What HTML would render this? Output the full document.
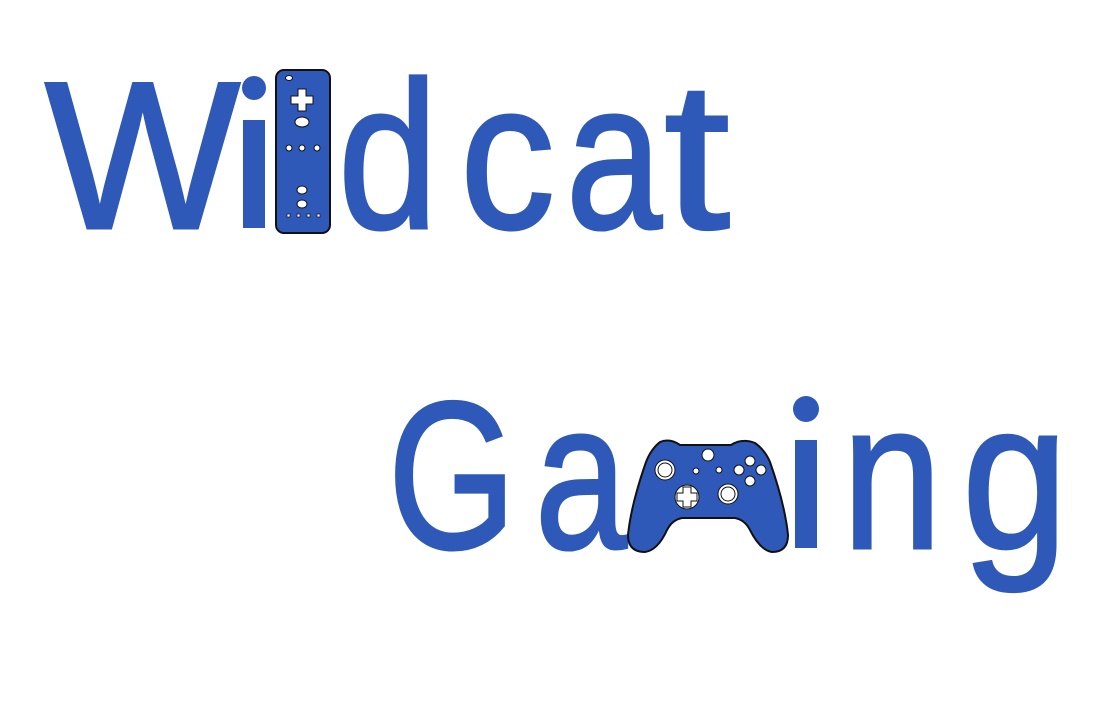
<!DOCTYPE html>
<html><head><meta charset="utf-8"><style>
html,body{margin:0;padding:0;background:#fff;width:1108px;height:724px;overflow:hidden}
svg{display:block}
text{font-family:"Liberation Sans",sans-serif;fill:#2f59b8;font-size:210px;stroke:#2f59b8;stroke-width:3px}
</style></head><body>
<svg width="1108" height="724" viewBox="0 0 1108 724">
<g>
<text x="45" y="228" textLength="195" lengthAdjust="spacingAndGlyphs">W</text>
<rect x="243" y="120" width="22" height="108" fill="#2f59b8"/>
<circle cx="254" cy="88" r="12" fill="#2f59b8"/>
<g>
<rect x="276" y="70" width="54" height="163" rx="8" fill="#2f59b8" stroke="#111" stroke-width="2"/>
<ellipse cx="289" cy="78" rx="3.5" ry="2.5" fill="#fff" stroke="#111"/>
<path d="M298 89h8v7h7v8h-7v7h-8v-7h-7v-8h7z" fill="#fff" stroke="#111"/>
<ellipse cx="302" cy="122" rx="7" ry="5" fill="#fff" stroke="#111"/>
<circle cx="289" cy="148" r="3" fill="#fff" stroke="#111"/>
<circle cx="302" cy="148" r="3" fill="#fff" stroke="#111"/>
<circle cx="317" cy="148" r="3" fill="#fff" stroke="#111"/>
<ellipse cx="302" cy="190" rx="5" ry="4" fill="#fff" stroke="#111"/>
<ellipse cx="302" cy="204" rx="5" ry="4" fill="#fff" stroke="#111"/>
<rect x="287" y="214" width="3" height="3" fill="#fff" stroke="#111" stroke-width=".7"/>
<rect x="297" y="214" width="3" height="3" fill="#fff" stroke="#111" stroke-width=".7"/>
<rect x="307" y="214" width="3" height="3" fill="#fff" stroke="#111" stroke-width=".7"/>
<rect x="317" y="214" width="3" height="3" fill="#fff" stroke="#111" stroke-width=".7"/>
</g>
<text x="338" y="228" textLength="100" lengthAdjust="spacingAndGlyphs">d</text>
<text x="460" y="228" textLength="95" lengthAdjust="spacingAndGlyphs">c</text>
<text x="566" y="228" textLength="96" lengthAdjust="spacingAndGlyphs">a</text>
<text x="664" y="228" textLength="66" lengthAdjust="spacingAndGlyphs">t</text>
</g>
<g>
<text x="388" y="548" textLength="128" lengthAdjust="spacingAndGlyphs">G</text>
<text x="535" y="548" textLength="92" lengthAdjust="spacingAndGlyphs">a</text>
<g>
<path d="M660 442 Q670 438 680 445 L731 445 Q742 438 755 443 Q765 450 770 462 Q785 505 788 535 Q788 552 772 552 Q760 550 750 530 Q745 520 735 518 L682 518 Q672 520 667 530 Q658 550 645 552 Q628 552 628 535 Q631 505 646 462 Q651 449 660 442 Z" fill="#2f59b8" stroke="#111" stroke-width="2"/>
<circle cx="708" cy="455" r="6" fill="#fff" stroke="#111"/>
<circle cx="750" cy="461" r="5" fill="#fff" stroke="#111"/>
<circle cx="739" cy="470" r="5" fill="#fff" stroke="#111"/>
<circle cx="761" cy="470" r="5" fill="#fff" stroke="#111"/>
<circle cx="750" cy="481" r="5" fill="#fff" stroke="#111"/>
<circle cx="696" cy="471" r="3" fill="#fff" stroke="#111"/>
<circle cx="719" cy="470" r="3" fill="#fff" stroke="#111"/>
<circle cx="665" cy="470" r="10" fill="#fff" stroke="#111"/>
<circle cx="665" cy="470" r="7" fill="#fff" stroke="#111"/>
<circle cx="728" cy="494" r="10" fill="#fff" stroke="#111"/>
<circle cx="728" cy="494" r="7" fill="#fff" stroke="#111"/>
<circle cx="687" cy="497" r="12" fill="#fff" stroke="#111"/>
<path d="M683 487h8v6h6v8h-6v6h-8v-6h-6v-8h6z" fill="#fff" stroke="#111"/>
</g>
<rect x="795" y="440" width="22" height="108" fill="#2f59b8"/>
<circle cx="806" cy="409" r="13" fill="#2f59b8"/>
<text x="842" y="548" textLength="100" lengthAdjust="spacingAndGlyphs">n</text>
<text x="962" y="548" textLength="106" lengthAdjust="spacingAndGlyphs">g</text>
</g>
</svg>
</body></html>
